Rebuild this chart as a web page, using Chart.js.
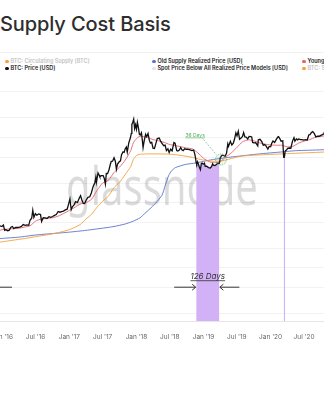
<!DOCTYPE html>
<html>
<head>
<meta charset="utf-8">
<script src="https://cdn.jsdelivr.net/npm/chart.js@4.4.1/dist/chart.umd.min.js"></script>
<style>
  html, body { margin: 0; padding: 0; background: #fff; }
  body { width: 324px; height: 400px; overflow: hidden; position: relative; font-family: Inter, "Noto Sans", sans-serif; }
  #title { position: absolute; left: 0; top: 12px; font-size: 20px; font-weight: 500; color: #2e2e2e; white-space: nowrap; letter-spacing: -0.1px; }
  #sep { position: absolute; left: 0; top: 52px; width: 324px; height: 1px; background: #f0f0f0; }
  .lg { position: absolute; font-size: 5.5px; font-weight: 600; color: #222; white-space: nowrap; line-height: 7px; }
  .lg i { display: inline-block; width: 3.5px; height: 3.5px; border-radius: 50%; margin-right: 2px; vertical-align: 0; }
  .lg.off { color: #c4c4c4; }
  #wrap { position: absolute; left: -40px; top: 72px; width: 404px; height: 273px; }
</style>
</head>
<body>
<div id="title">Supply Cost Basis</div>
<div id="sep"></div>
<div id="legend"></div>
<div id="wrap"><canvas id="chart"></canvas></div>
<script>
document.addEventListener("DOMContentLoaded", function() {
    // BTC price [USD]
    const priceDates = [
        '2015-12-01','2015-12-10','2015-12-16','2015-12-22','2015-12-31',
        '2016-01-08','2016-01-15','2016-01-22','2016-01-31','2016-02-08','2016-02-18','2016-02-26',
        '2016-03-05','2016-03-15','2016-03-25','2016-04-05','2016-04-15','2016-04-25',
        '2016-05-05','2016-05-15','2016-05-25','2016-06-01','2016-06-10','2016-06-16','2016-06-22','2016-06-30',
        '2016-07-08','2016-07-18','2016-07-28','2016-08-03','2016-08-12','2016-08-22',
        '2016-09-01','2016-09-12','2016-09-22','2016-10-02','2016-10-12','2016-10-22',
        '2016-11-01','2016-11-10','2016-11-20','2016-11-30','2016-12-10','2016-12-20','2016-12-27',
        '2017-01-04','2017-01-11','2017-01-18','2017-01-26','2017-02-04','2017-02-14','2017-02-24',
        '2017-03-03','2017-03-10','2017-03-18','2017-03-25','2017-04-02','2017-04-12','2017-04-22',
        '2017-05-01','2017-05-10','2017-05-20','2017-05-25','2017-05-28','2017-06-06','2017-06-12','2017-06-16','2017-06-25',
        '2017-07-04','2017-07-10','2017-07-16','2017-07-21','2017-07-28','2017-08-05','2017-08-12','2017-08-17','2017-08-24',
        '2017-09-01','2017-09-08','2017-09-14','2017-09-20','2017-09-28','2017-10-06','2017-10-12','2017-10-20','2017-10-26',
        '2017-11-01','2017-11-07','2017-11-12','2017-11-20','2017-11-29','2017-12-04','2017-12-07','2017-12-11','2017-12-17',
        '2017-12-22','2017-12-27','2018-01-01','2018-01-06','2018-01-12','2018-01-17','2018-01-22','2018-01-28',
        '2018-02-02','2018-02-06','2018-02-12','2018-02-20','2018-02-26','2018-03-05','2018-03-12','2018-03-18','2018-03-25',
        '2018-04-01','2018-04-09','2018-04-16','2018-04-24','2018-05-05','2018-05-13','2018-05-22','2018-05-29',
        '2018-06-06','2018-06-13','2018-06-21','2018-06-28','2018-07-06','2018-07-14','2018-07-24','2018-07-30',
        '2018-08-08','2018-08-14','2018-08-22','2018-08-30','2018-09-05','2018-09-12','2018-09-21','2018-09-30',
        '2018-10-10','2018-10-20','2018-10-30','2018-11-08','2018-11-14','2018-11-19','2018-11-22','2018-11-25','2018-11-29',
        '2018-12-05','2018-12-10','2018-12-15','2018-12-20','2018-12-24','2018-12-30',
        '2019-01-06','2019-01-10','2019-01-18','2019-01-28','2019-02-07','2019-02-14','2019-02-19','2019-02-24',
        '2019-03-04','2019-03-12','2019-03-20','2019-03-28','2019-04-02','2019-04-10','2019-04-20','2019-04-28',
        '2019-05-06','2019-05-13','2019-05-17','2019-05-27','2019-06-04','2019-06-12','2019-06-18','2019-06-26',
        '2019-07-02','2019-07-09','2019-07-16','2019-07-24','2019-08-01','2019-08-07','2019-08-14','2019-08-22','2019-08-29',
        '2019-09-06','2019-09-15','2019-09-20','2019-09-25','2019-10-03','2019-10-12','2019-10-23','2019-10-26',
        '2019-11-04','2019-11-14','2019-11-22','2019-11-29','2019-12-06','2019-12-17','2019-12-24',
        '2020-01-01','2020-01-07','2020-01-14','2020-01-23','2020-02-01','2020-02-09','2020-02-13','2020-02-20','2020-02-27',
        '2020-03-07','2020-03-12','2020-03-16','2020-03-20','2020-03-27','2020-04-03','2020-04-12','2020-04-20','2020-04-29',
        '2020-05-07','2020-05-12','2020-05-20','2020-05-27','2020-06-02','2020-06-11','2020-06-20','2020-06-30',
        '2020-07-09','2020-07-18','2020-07-27','2020-08-02','2020-08-10','2020-08-17','2020-08-26',
        '2020-09-03','2020-09-12','2020-09-21','2020-09-30','2020-10-09','2020-10-16','2020-10-24','2020-10-31'
    ];
    const priceUsd = [
        362, 415, 455, 437, 430,
        452, 375, 385, 370, 375, 420, 430,
        400, 415, 415, 422, 430, 460,
        448, 455, 448, 537, 575, 765, 595, 675,
        640, 670, 655, 515, 587, 585,
        572, 607, 596, 612, 636, 657,
        730, 713, 730, 742, 773, 792, 934,
        1135, 777, 870, 915, 1033, 1004, 1173,
        1280, 1100, 970, 965, 1090, 1205, 1230,
        1420, 1760, 2040, 2450, 2050, 2860, 2660, 2500, 2590,
        2600, 2350, 1930, 2800, 2790, 3230, 3880, 4310, 4330,
        4900, 4330, 3250, 3900, 4200, 4380, 5440, 6000, 5900,
        6740, 7140, 5950, 8200, 9900, 11600, 16000, 16700, 19100,
        13800, 15700, 13400, 17100, 13900, 11200, 10900, 11800,
        9100, 7000, 8900, 11200, 10300, 11500, 9100, 8200, 8450,
        6850, 6800, 8000, 9650, 9800, 8700, 8000, 7500,
        7650, 6300, 6700, 5900, 6600, 6250, 8400, 8200,
        6300, 6200, 6400, 7000, 6500, 6300, 6700, 6600,
        6550, 6450, 6300, 6400, 5600, 4800, 4050, 3900, 4250,
        3850, 3450, 3200, 4000, 4050, 3900,
        4050, 3620, 3620, 3450, 3400, 3600, 3930, 3750,
        3720, 3860, 4050, 4020, 4880, 5300, 5300, 5150,
        5700, 8000, 7300, 8750, 7700, 8200, 9300, 11800,
        10600, 12500, 9400, 9800, 10400, 11900, 10200, 10100, 9500,
        10400, 10300, 10200, 8400, 8250, 8300, 7450, 9250,
        9400, 8650, 7600, 7800, 7500, 6650, 7300,
        7200, 8150, 8820, 8400, 9350, 10150, 10300, 9600, 8780,
        8900, 4970, 5000, 6200, 6400, 6800, 6900, 6850, 8800,
        9950, 8800, 9500, 9200, 9500, 9300, 9300, 9150,
        9250, 9150, 11000, 11050, 11900, 12300, 11450,
        10200, 10450, 10450, 10800, 11050, 11350, 13000, 13800
    ];

    // Young Supply Realized Price [USD]
    const youngDates = [
        '2015-12-01','2016-01-01','2016-02-01','2016-03-01','2016-04-01','2016-05-01','2016-06-01','2016-07-01',
        '2016-08-01','2016-09-01','2016-10-01','2016-11-01','2016-12-01','2017-01-01','2017-02-01','2017-03-01',
        '2017-04-01','2017-05-01','2017-06-01','2017-07-01','2017-08-01','2017-09-01','2017-10-01','2017-11-01',
        '2017-12-01','2017-12-15','2018-01-01','2018-01-15','2018-02-01','2018-03-01','2018-04-01','2018-05-01',
        '2018-06-01','2018-07-01','2018-08-01','2018-09-01','2018-10-01','2018-11-01','2018-12-01','2019-01-01',
        '2019-02-01','2019-03-01','2019-04-01','2019-05-01','2019-06-01','2019-07-01','2019-08-01','2019-09-01',
        '2019-10-01','2019-11-01','2019-12-01','2020-01-01','2020-02-01','2020-03-01','2020-04-01','2020-05-01',
        '2020-06-01','2020-07-01','2020-08-01','2020-09-01','2020-10-01','2020-10-31'
    ];
    const youngUsd = [
        360, 385, 392, 398, 405, 420, 440, 520,
        560, 570, 585, 620, 680, 760, 850, 950,
        1000, 1120, 1550, 2000, 2200, 2900, 3500, 4500,
        6300, 8300, 9600, 10300, 10400, 10000, 9300, 8900,
        8400, 7800, 7500, 7200, 6900, 6700, 5800, 4800,
        4250, 4100, 4250, 5000, 5800, 7000, 8600, 9200,
        8900, 8300, 7900, 7700, 7600, 7600, 7200, 7300,
        8200, 8800, 9300, 10100, 10400, 10700
    ];

    // BTC realized price [USD]
    const realizedDates = [
        '2015-12-01','2016-01-01','2016-03-01','2016-05-01','2016-07-01','2016-09-01','2016-11-01','2017-01-01',
        '2017-03-01','2017-04-01','2017-05-01','2017-06-01','2017-07-01','2017-08-01','2017-09-01','2017-10-01',
        '2017-11-01','2017-12-01','2017-12-15','2018-01-01','2018-01-15','2018-02-01','2018-03-01','2018-05-01',
        '2018-07-01','2018-09-01','2018-11-01','2018-12-01','2019-01-01','2019-02-01','2019-03-01','2019-04-01',
        '2019-05-01','2019-06-01','2019-07-01','2019-08-01','2019-10-01','2019-12-01','2020-01-01','2020-03-01',
        '2020-05-01','2020-07-01','2020-09-01','2020-10-31'
    ];
    const realizedUsd = [
        245, 250, 265, 280, 300, 320, 345, 385,
        460, 560, 660, 850, 1050, 1250, 1700, 2050,
        2700, 3600, 4600, 5300, 5500, 5550, 5600, 5600,
        5550, 5300, 4950, 4700, 4500, 4400, 4300, 4350,
        4500, 4750, 5000, 5200, 5350, 5450, 5500, 5600,
        5700, 5800, 5900, 6000
    ];

    // Old Supply Realized Price [USD]
    const oldDates = [
        '2015-12-01','2016-01-01','2016-04-01','2016-07-01','2016-10-01','2017-01-01','2017-04-01','2017-07-01',
        '2017-09-01','2017-11-01','2017-12-15','2018-01-21','2018-02-15','2018-03-15','2018-04-15','2018-05-20',
        '2018-06-07','2018-06-25','2018-07-10','2018-08-01','2018-09-24','2018-11-18','2019-02-17','2019-05-18',
        '2019-08-15','2019-11-15','2020-02-15','2020-05-14','2020-08-15','2020-10-31'
    ];
    const oldUsd = [
        278, 282, 295, 318, 335, 352, 375, 405,
        430, 470, 520, 585, 680, 800, 980, 1300,
        1850, 2600, 3050, 3450, 3850, 4060, 4570, 4960,
        5300, 5650, 5950, 6270, 6400, 6520
    ];

    // Periods with spot price below all realized price models
    const belowPeriods = [
        ['2018-11-22', '2019-03-28'],
        ['2020-03-12', '2020-03-20']
    ];

    // x axis ticks
    const xTickDates = ['2016-01-01','2016-07-01','2017-01-01','2017-07-01','2018-01-01','2018-07-01',
                        '2019-01-01','2019-07-01','2020-01-01','2020-07-01','2021-01-01'];
    const xTickLabels = ["Jan '16","Jul '16","Jan '17","Jul '17","Jan '18","Jul '18",
                         "Jan '19","Jul '19","Jan '20","Jul '20","Jan '21"];
    const yGridValues = [20, 50, 100, 200, 500, 1000, 2000, 5000, 10000, 20000, 50000];

    const t = s => Date.parse(s);
    const toPoints = (dates, values) => dates.map((d, i) => ({ x: t(d), y: values[i] }));

    function belowPoints() {
        const pts = [];
        belowPeriods.forEach(function(p) {
            const a = t(p[0]), b = t(p[1]);
            priceDates.forEach(function(d, i) {
                const x = t(d);
                if (x >= a && x <= b) pts.push({ x: x, y: priceUsd[i] });
            });
            pts.push({ x: b + 1, y: null });
        });
        return pts;
    }

    const datasets = [
        { label: 'BTC: Circulating Supply [BTC]', data: [], hidden: true, borderColor: '#f7a035', backgroundColor: '#f7a035' },
        { label: 'BTC: Price [USD]', data: toPoints(priceDates, priceUsd), borderColor: '#111', backgroundColor: '#111', borderWidth: 1.3, tension: 0, order: 0 },
        { label: 'Old Supply Realized Price [USD]', data: toPoints(oldDates, oldUsd), borderColor: '#5b72cc', backgroundColor: '#5b72cc', borderWidth: 0.9, order: 3 },
        { label: 'Spot Price Below All Realized Price Models [USD]', data: belowPoints(), borderColor: 'rgba(0,0,0,0)', backgroundColor: '#d3b1f7', legendColor: '#e4e1f6', borderWidth: 0, tension: 0, fill: 'start', spanGaps: false, order: 5 },
        { label: 'Young Supply Realized Price [USD]', data: toPoints(youngDates, youngUsd), borderColor: '#e8606c', backgroundColor: '#e8606c', borderWidth: 0.9, order: 1 },
        { label: 'BTC: Supply Last Active 1y+ [BTC]', data: [], hidden: true, borderColor: '#f7a035', backgroundColor: '#f7a035' },
        { label: 'BTC: Realized Price [USD]', data: toPoints(realizedDates, realizedUsd), borderColor: '#f3a13a', backgroundColor: '#f3a13a', borderWidth: 0.9, order: 2 }
    ];

    // legend in columns of two rows, as in the glassnode layout
    const legendSlots = [[5, 58], [5, 65], [152, 58], [152, 65], [302, 58], [302, 65], [452, 58]];
    const legend = document.getElementById('legend');
    datasets.forEach(function(ds, k) {
        const el = document.createElement('div');
        el.className = 'lg' + (ds.hidden ? ' off' : '');
        el.style.left = legendSlots[k][0] + 'px';
        el.style.top = legendSlots[k][1] + 'px';
        el.innerHTML = '<i style="background:' + (ds.legendColor || ds.backgroundColor) + '"></i>';
        el.appendChild(document.createTextNode(ds.label));
        legend.appendChild(el);
    });

    const px = (chart, d) => chart.scales.x.getPixelForValue(t(d));
    const py = (chart, v) => chart.scales.y.getPixelForValue(v);

    function arrow(ctx, x0, x1, y, headAtEnd) {
        ctx.beginPath();
        ctx.moveTo(x0, y);
        ctx.lineTo(x1, y);
        const hx = headAtEnd ? x1 : x0;
        const dir = headAtEnd ? -1 : 1;
        ctx.moveTo(hx + dir * 3.5, y - 3);
        ctx.lineTo(hx, y);
        ctx.lineTo(hx + dir * 3.5, y + 3);
        ctx.stroke();
    }

    const decorations = {
        id: 'decorations',
        beforeDatasetsDraw(chart) {
            const ctx = chart.ctx, a = chart.chartArea;
            ctx.save();
            ctx.fillStyle = 'rgba(0,0,0,0.14)';
            ctx.font = '400 40px "Noto Sans", sans-serif';
            ctx.textAlign = 'center';
            ctx.textBaseline = 'alphabetic';
            ctx.translate((a.left + a.right) / 2, (a.top + a.bottom) / 2 + 5);
            ctx.scale(1, 1.3);
            ctx.fillText('glassnode', 0, 0);
            ctx.restore();
        },
        afterDatasetsDraw(chart) {
            const ctx = chart.ctx, a = chart.chartArea;
            ctx.save();
            // 126 days label and arrows around the first band
            const x0 = px(chart, belowPeriods[0][0]), x1 = px(chart, belowPeriods[0][1]);
            const cx = (x0 + x1) / 2;
            ctx.fillStyle = '#333';
            ctx.font = 'italic 8px Inter, "Noto Sans", sans-serif';
            ctx.textAlign = 'center';
            ctx.textBaseline = 'alphabetic';
            ctx.fillText('126 Days', cx, a.bottom - 42);
            const w = ctx.measureText('126 Days').width;
            ctx.strokeStyle = '#333';
            ctx.lineWidth = 0.8;
            ctx.beginPath();
            ctx.moveTo(cx - w / 2, a.bottom - 40.5);
            ctx.lineTo(cx + w / 2, a.bottom - 40.5);
            ctx.stroke();
            ctx.lineWidth = 1;
            arrow(ctx, x0 - 22, x0 - 0.5, a.bottom - 34, true);
            arrow(ctx, x1 + 0.5, x1 + 20, a.bottom - 34, false);
            // tail of the previous cycle's arrow
            arrow(ctx, px(chart, '2015-11-10'), px(chart, '2016-02-24'), a.bottom - 34, false);

            // 36 days callout
            const tx = px(chart, '2018-11-16'), ty = py(chart, 10900);
            const ccx = px(chart, '2019-04-06'), ccy = py(chart, 4600);
            ctx.fillStyle = '#4fae5a';
            ctx.font = '5px Inter, "Noto Sans", sans-serif';
            ctx.fillText('36 Days', tx, ty + 1.5);
            const w2 = ctx.measureText('36 Days').width;
            ctx.strokeStyle = '#4fae5a';
            ctx.lineWidth = 0.6;
            ctx.beginPath();
            ctx.moveTo(tx - w2 / 2, ty + 2.8);
            ctx.lineTo(tx + w2 / 2, ty + 2.8);
            ctx.stroke();
            ctx.setLineDash([1, 1.2]);
            ctx.lineWidth = 0.8;
            ctx.beginPath();
            ctx.moveTo(tx + w2 / 2 - 2, ty + 3.5);
            ctx.lineTo(ccx - 4, ccy - 4);
            ctx.stroke();
            ctx.beginPath();
            ctx.arc(ccx, ccy, 5.5, 0, Math.PI * 2);
            ctx.fillStyle = 'rgba(120,200,130,0.15)';
            ctx.fill();
            ctx.stroke();
            ctx.restore();
        }
    };

    new Chart(document.getElementById('chart').getContext('2d'), {
        type: 'line',
        data: { datasets: datasets },
        options: {
            responsive: true,
            maintainAspectRatio: false,
            animation: false,
            parsing: false,
            layout: { padding: { top: 6, left: 0, right: 0, bottom: 0 } },
            elements: { point: { radius: 0 }, line: { tension: 0.2 } },
            plugins: { legend: { display: false }, tooltip: { enabled: false } },
            scales: {
                x: {
                    type: 'linear',
                    min: t('2015-05-17'),
                    max: t('2021-05-23'),
                    grid: { display: false },
                    border: { display: true, color: '#e6e6e6' },
                    afterBuildTicks: scale => { scale.ticks = xTickDates.map(d => ({ value: t(d) })); },
                    ticks: {
                        padding: 4,
                        maxRotation: 0,
                        autoSkip: false,
                        color: '#666',
                        font: { family: 'Inter', size: 6.5 },
                        callback: (v, i) => xTickLabels[i]
                    }
                },
                y: {
                    type: 'logarithmic',
                    min: 15.1,
                    max: 82000,
                    grid: { color: '#efefef', lineWidth: 0.8, drawTicks: false },
                    border: { display: false },
                    afterBuildTicks: scale => { scale.ticks = yGridValues.map(v => ({ value: v })); },
                    ticks: { display: false }
                }
            }
        },
        plugins: [decorations]
    });
});
</script>
</body>
</html>
